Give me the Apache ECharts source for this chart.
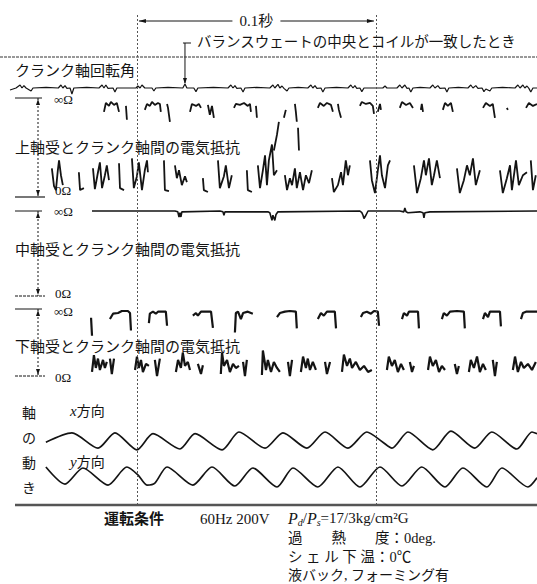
<!DOCTYPE html>
<html>
<head>
<meta charset="utf-8">
<script src="https://cdn.jsdelivr.net/npm/echarts@6/dist/echarts.min.js"></script>
<style>
html, body { margin: 0; padding: 0; background: #fff; }
#main { width: 537px; height: 584px; }
</style>
</head>
<body>
<div id="main"></div>
<script>
// time axis in ms, 0 = first marker line, 100 = second one (0.1 s)
var T_MIN = -57.3, T_MAX = 167.4;
var markTimes = [0, 100];
var balanceTime = 20.1;

// crank angle trace, [ms, deflection]
var crankAngle = [
    [-53.1, -0.5], [-50.6, 0], [-48.9, 0.75], [-48.1, 0], [-47.3, 0.6], [-46.4, 0], [-44.3, -0.75], [-43.5, 0],
    [-38.0, 0.15], [-32.9, 0], [-31.8, 0.75], [-31.0, 0], [-30.1, 0.6], [-29.3, -0.1], [-28.0, 0], [-27.2, -1.5], [-26.4, 0],
    [-21.0, 0.15], [-15.9, 0], [-14.6, 0.75], [-13.8, 0], [-13.0, 0.75], [-12.1, -0.1], [-10.0, 0], [-9.2, -1.0], [-8.4, 0],
    [-0.4, 0], [0.4, 0.5], [1.3, 0], [2.1, 0.75], [3.3, 0], [6.3, 0], [7.1, -0.75], [7.9, 0],
    [13.0, 0.15], [19.2, 0], [20.1, 1.0], [20.9, 0], [23.8, 0], [24.7, -0.9], [25.5, 0],
    [32.0, 0.15], [38.1, 0], [39.3, 0.75], [40.2, 0], [41.0, 0.6], [41.8, -0.1], [43.5, 0], [44.4, -1.0], [45.2, 0],
    [50.0, 0.15], [55.6, 0], [56.9, 0.75], [57.7, 0], [59.0, 0.9], [59.8, 0], [60.7, 0.5], [61.5, -0.1], [62.8, -0.75], [63.6, 0],
    [67.5, 0.15], [71.5, 0], [72.8, 0.75], [73.6, 0], [74.5, 0.6], [75.3, -0.1], [77.0, 0], [77.8, -1.0], [78.7, 0],
    [83.5, 0.15], [88.3, 0], [89.5, 0.75], [90.4, 0], [91.2, 0.6], [92.0, -0.1], [93.3, 0], [94.1, -0.9], [95.0, 0],
    [102.9, 0], [103.8, 0.5], [104.6, 0],
    [108.8, 0], [110.0, 0.75], [110.9, 0], [112.1, 0.75], [113.0, -0.1], [113.8, 0], [114.6, -1.0], [115.5, 0],
    [118.5, 0.15], [122.6, 0], [123.8, 0.75], [124.7, 0], [125.9, 0.6], [126.8, -0.1], [128.9, 0], [129.7, -1.0], [130.5, 0],
    [134.5, 0.15], [138.5, 0], [139.7, 0.75], [140.6, 0], [141.8, 0.6], [142.7, -0.1], [144.4, 0], [145.2, -0.9], [146.0, -0.25], [147.7, -0.75], [148.5, 0],
    [153.0, 0.15], [158.2, 0], [159.4, 0.75], [160.3, 0], [161.5, 0.75], [162.3, 0], [163.2, 0.5], [164.0, -0.1], [164.8, -1.0], [165.7, 0], [167.4, 0]
];

// upper bearing resistance (1 = open circuit, 0 = contact), visible pieces only
var upperHigh = [
    [[-13.8, 0.86], [-13.0, 0.95], [-11.7, 0.92], [-10.9, 0.96], [-9.6, 0.93], [-8.4, 0.95], [-7.5, 0.86]],
    [[-4.6, 0.92], [-4.2, 0.78]],
    [[3.3, 0.88], [4.2, 0.94], [5.4, 0.92], [6.3, 0.96], [7.5, 0.93], [8.8, 0.95], [9.6, 0.94], [10.0, 0.86]],
    [[12.6, 0.94], [13.0, 0.90], [13.8, 0.76]],
    [[22.2, 0.86], [23.0, 0.94], [24.7, 0.92], [25.9, 0.94], [26.8, 0.90]],
    [[29.7, 0.93], [30.5, 0.83], [31.4, 0.92], [32.2, 0.80]],
    [[40.6, 0.90], [41.4, 0.94], [43.1, 0.93], [44.8, 0.95], [46.4, 0.92], [47.3, 0.94], [47.7, 0.86]],
    [[49.8, 0.92], [50.2, 0.80]],
    [[57.3, 0.47], [58.6, 0.63], [59.4, 0.76]],
    [[61.5, 0.80], [62.3, 0.88]],
    [[66.1, 0.94], [66.5, 0.86], [66.9, 0.76]],
    [[67.4, 0.70], [67.8, 0.47]],
    [[75.7, 0.90], [76.6, 0.95], [78.2, 0.92], [79.5, 0.95], [81.2, 0.93], [82.0, 0.86]],
    [[84.1, 0.94], [84.5, 0.88], [85.4, 0.80]],
    [[93.3, 0.92], [94.1, 0.96], [95.8, 0.94], [97.5, 0.95], [98.7, 0.92], [99.2, 0.84]],
    [[100.8, 0.86], [101.7, 0.94], [102.1, 0.88]],
    [[110.0, 0.90], [110.9, 0.96], [112.6, 0.93], [114.2, 0.95], [115.5, 0.90]],
    [[118.8, 0.88], [119.2, 0.94], [119.7, 0.86]],
    [[128.0, 0.88], [128.9, 0.95], [130.1, 0.92], [131.4, 0.95], [132.2, 0.86]],
    [[144.8, 0.90], [146.0, 0.95], [147.7, 0.92], [148.9, 0.94], [149.8, 0.80]],
    [[154.8, 0.90], [155.2, 0.88]],
    [[162.8, 0.90], [164.0, 0.95], [165.7, 0.92], [167.4, 0.94]]
];
var upperLow = [
    [[-35.6, 0.29], [-34.7, 0.11], [-33.9, 0.07], [-33.1, 0.27], [-32.6, 0.37], [-31.8, 0.22], [-31.0, 0.12]],
    [[-24.3, 0.25], [-23.8, 0.07], [-22.2, 0.09]],
    [[-18.4, 0.29], [-17.6, 0.08], [-16.3, 0.25], [-15.5, 0.35], [-14.6, 0.09], [-13.4, 0.22], [-12.6, 0.32], [-11.7, 0.17]],
    [[-7.5, 0.34], [-7.1, 0.09], [-5.4, 0.07]],
    [[-2.1, 0.39], [-1.3, 0.09], [0, 0.21], [0.8, 0.35], [2.1, 0.07], [3.3, 0.27], [4.2, 0.37], [4.6, 0.25]],
    [[11.3, 0.37], [11.7, 0.07], [13.4, 0.06]],
    [[15.9, 0.32], [16.7, 0.19], [17.6, 0.27], [18.8, 0.12], [20.1, 0.21], [20.9, 0.15]],
    [[27.6, 0.19], [28.0, 0.07], [29.7, 0.05]],
    [[33.9, 0.37], [34.7, 0.09], [36.4, 0.21], [37.2, 0.32], [38.5, 0.09], [39.7, 0.22]],
    [[46.0, 0.27], [46.4, 0.07], [48.1, 0.05]],
    [[50.6, 0.32], [51.5, 0.09], [52.7, 0.27], [53.6, 0.42], [54.4, 0.12], [55.2, 0.37], [56.5, 0.53], [57.3, 0.22], [58.6, 0.27]],
    [[61.9, 0.22], [62.8, 0.07], [64.0, 0.19], [64.9, 0.12], [66.1, 0.29], [66.9, 0.09], [68.2, 0.25], [69.5, 0.07], [70.7, 0.22], [72.0, 0.14], [73.2, 0.27]],
    [[81.6, 0.19], [82.4, 0.05], [84.1, 0.12], [85.4, 0.25], [86.2, 0.12], [87.4, 0.37], [88.3, 0.22], [89.1, 0.32]],
    [[97.5, 0.37], [98.3, 0.17], [99.6, 0.04], [100.8, 0.27], [101.7, 0.42], [102.5, 0.22], [103.8, 0.09], [105.0, 0.32], [105.9, 0.37]],
    [[115.9, 0.32], [117.2, 0.04], [118.8, 0.19], [120.1, 0.37], [120.9, 0.22], [122.2, 0.39], [123.4, 0.12], [124.3, 0.22], [125.5, 0.37], [126.8, 0.19]],
    [[133.9, 0.29], [135.1, 0.04], [136.8, 0.17], [138.1, 0.32], [139.3, 0.22], [140.6, 0.39], [141.8, 0.12], [143.5, 0.27]],
    [[151.9, 0.27], [153.1, 0.04], [154.8, 0.19], [156.1, 0.32], [156.9, 0.07], [158.6, 0.37], [159.8, 0.12], [161.5, 0.22], [163.2, 0.25]],
    [[164.8, 0.37], [165.7, 0.07], [166.9, 0.22]]
];

// middle bearing: stays open almost all the time
var middleTrace = [
    [-18.8, 1.0], [15.9, 1.0], [17.1, 0.99], [17.6, 0.93], [18.0, 0.98], [18.4, 0.93], [18.8, 0.99],
    [34.7, 1.0], [36.0, 0.99], [36.4, 0.95], [36.8, 0.99],
    [54.8, 0.99], [55.6, 0.98], [56.5, 0.89], [56.9, 0.95], [57.7, 0.89], [58.2, 0.96], [59.0, 0.99],
    [93.3, 1.0], [94.1, 0.98], [94.6, 0.95], [95.0, 0.91], [95.8, 0.95], [96.7, 1.0],
    [110.0, 1.0], [111.7, 0.99], [112.1, 1.035], [112.6, 0.99], [113.4, 0.98],
    [118.4, 0.99], [119.7, 0.98], [120.1, 0.92], [120.5, 0.98], [122.6, 0.99], [167.4, 1.0]
];

// lower bearing
var lowerHigh = [
    [[-19.2, 0.87], [-18.8, 0.60]],
    [[-11.3, 0.85], [-10.0, 0.93], [-7.9, 0.94], [-6.3, 0.97], [-3.8, 0.97], [-2.9, 0.94], [-2.5, 0.68]],
    [[5.0, 0.79], [5.4, 0.93], [6.7, 0.96], [7.9, 0.93], [8.8, 0.96], [12.1, 0.96], [12.6, 0.75]],
    [[23.4, 0.90], [24.7, 0.94], [25.5, 0.90], [26.8, 0.96], [31.0, 0.96], [31.8, 0.72]],
    [[41.0, 0.65], [41.4, 0.94], [42.3, 0.96], [43.5, 0.85], [44.4, 0.94], [46.4, 0.96], [48.5, 0.93]],
    [[58.6, 0.88], [59.8, 0.94], [61.9, 0.96], [64.0, 0.97], [66.5, 0.96], [66.9, 0.71]],
    [[75.7, 0.85], [77.0, 0.94], [78.2, 0.90], [79.5, 0.96], [82.8, 0.96], [83.3, 0.71]],
    [[93.7, 0.88], [94.6, 0.94], [96.2, 0.96], [97.9, 0.93], [99.2, 0.97], [100.8, 0.96], [101.3, 0.75]],
    [[110.9, 0.85], [111.7, 0.94], [113.0, 0.90], [113.8, 0.96], [117.6, 0.96], [118.0, 0.71]],
    [[127.6, 0.85], [128.4, 0.94], [129.7, 0.90], [131.0, 0.96], [133.9, 0.97], [136.8, 0.96], [137.2, 0.71]],
    [[144.8, 0.85], [145.6, 0.94], [146.9, 0.88], [147.7, 0.96], [151.9, 0.96], [152.3, 0.74]],
    [[160.7, 0.85], [161.5, 0.94], [162.8, 0.96], [167.4, 0.96]]
];
var lowerLow = [
    [[-18.8, 0.06], [-18.0, 0.31], [-17.2, 0.12], [-16.3, 0.26], [-15.5, 0.09], [-14.2, 0.24], [-13.4, 0.12], [-12.6, 0.21]],
    [[-11.3, 0.26], [-10.5, 0.03], [-9.6, 0.26]],
    [[-0.8, 0.09], [0, 0.29], [0.8, 0.12], [1.7, 0.24], [2.5, 0.06], [3.8, 0.18], [5.0, 0.15]],
    [[7.5, 0.24], [8.4, 0.0], [9.6, 0.26]],
    [[16.3, 0.06], [17.2, 0.24], [18.4, 0.12], [19.2, 0.35], [20.1, 0.15], [21.3, 0.21], [22.2, 0.09]],
    [[25.5, 0.18], [26.8, 0.03], [27.6, 0.16]],
    [[35.1, 0.03], [35.6, 0.35], [36.4, 0.15], [37.7, 0.24], [38.9, 0.06], [40.2, 0.18], [41.4, 0.12], [42.7, 0.15]],
    [[44.4, 0.21], [45.2, 0.0], [46.0, 0.24]],
    [[52.3, 0.015], [52.7, 0.38], [54.0, 0.09], [54.8, 0.24], [56.1, 0.06], [57.3, 0.21], [58.6, 0.12], [59.8, 0.06]],
    [[63.2, 0.21], [64.0, 0.0], [64.9, 0.24]],
    [[68.6, 0.06], [69.5, 0.29], [70.7, 0.12], [71.5, 0.26], [72.4, 0.09], [73.6, 0.21], [74.9, 0.09]],
    [[78.7, 0.21], [79.5, 0.03], [80.8, 0.21]],
    [[85.8, 0.06], [86.6, 0.32], [87.9, 0.15], [89.1, 0.26], [90.0, 0.12], [91.6, 0.21], [93.3, 0.09], [95.0, 0.15], [96.7, 0.06], [98.3, 0.09]],
    [[104.6, 0.09], [105.4, 0.29], [106.7, 0.15], [107.9, 0.24], [109.2, 0.06], [110.5, 0.18], [111.7, 0.09]],
    [[114.2, 0.21], [115.1, 0.06], [115.9, 0.15]],
    [[121.8, 0.09], [122.6, 0.29], [123.8, 0.15], [125.1, 0.24], [126.4, 0.06], [127.6, 0.15], [128.9, 0.09]],
    [[133.0, 0.18], [133.9, 0.03], [134.7, 0.15]],
    [[138.9, 0.06], [139.7, 0.24], [141.0, 0.12], [142.3, 0.29], [143.5, 0.06], [144.8, 0.18], [146.0, 0.09]],
    [[148.9, 0.24], [149.8, 0.0], [150.6, 0.21]],
    [[157.3, 0.09], [158.2, 0.29], [159.4, 0.06], [160.7, 0.21], [161.9, 0.12], [163.6, 0.18], [165.3, 0.09], [166.9, 0.21]]
];

// shaft motion, x and y direction
var shaftX = [
    [-38.1, -0.2], [-27.2, 0.9], [-16.3, -0.9], [-9.2, 0.9], [0, -1.1], [6.7, 0.8], [18.0, -1.0], [24.3, 0.8],
    [35.6, -1.1], [42.7, 1.0], [53.6, -0.9], [61.1, 0.9], [71.1, -0.9], [78.7, 1.0], [88.3, -0.9], [96.2, 1.0],
    [102.9, -0.2], [106.7, -0.9], [113.4, 1.0], [123.8, -1.1], [131.4, 1.1], [141.4, -0.9], [148.5, 1.0],
    [159.0, -1.0], [165.3, 1.0], [167.4, 0.8]
];
var shaftY = [
    [-38.1, 1.0], [-30.1, -0.75], [-22.6, 0.9], [-12.1, -0.85], [-4.2, 1.0], [0.4, 0.2], [4.2, -0.85], [7.5, -0.65],
    [12.6, 1.0], [23.4, -0.85], [31.4, 1.0], [41.0, -0.95], [48.5, 0.9], [58.6, -1.05], [65.3, 0.9], [75.7, -1.05],
    [84.1, 1.0], [93.3, -1.05], [101.7, 1.0], [110.9, -0.95], [119.2, 1.0], [128.9, -1.05], [136.4, 0.9],
    [146.4, -1.05], [152.7, 0.9], [163.6, -1.05], [167.4, -0.1]
];

var FONT = '"Liberation Serif", "Noto Sans CJK JP", serif';
var INK = '#141414';

// line breaks between visible pieces of a trace
function joinSegs(segs) {
    var out = [];
    for (var i = 0; i < segs.length; i++) {
        if (i > 0) out.push([segs[i][0][0], '-']);
        out = out.concat(segs[i]);
    }
    return out;
}

// grids: 0 overlay, 1 crank, 2 upper, 3 middle, 4 lower, 5 x dir, 6 y dir
var gridBoxes = [
    {top: 14, height: 491},
    {top: 80, height: 16},
    {top: 98, height: 99},
    {top: 211, height: 85},
    {top: 309, height: 67},
    {top: 432, height: 17},
    {top: 467, height: 19.5}
];
var yRanges = [[0, 1], [-2, 2], [0, 1], [0, 1], [0, 1], [-1, 1], [-1, 1]];

function traceSeries(grid, data, width, smooth) {
    return {
        type: 'line', xAxisIndex: grid, yAxisIndex: grid, data: data,
        showSymbol: false, symbol: 'none', clip: false, smooth: smooth || false,
        connectNulls: false, silent: true,
        lineStyle: {color: INK, width: width}
    };
}

var chart = echarts.init(document.getElementById('main'), null, {renderer: 'svg'});

var option = {
    animation: false,
    backgroundColor: '#fff',
    grid: gridBoxes.map(function (g) { return {left: 0, right: 0, top: g.top, height: g.height}; }),
    xAxis: gridBoxes.map(function (g, i) {
        return {gridIndex: i, type: 'value', min: T_MIN, max: T_MAX, show: false};
    }),
    yAxis: gridBoxes.map(function (g, i) {
        return {gridIndex: i, type: 'value', min: yRanges[i][0], max: yRanges[i][1], show: false};
    }),
    series: [
        {
            type: 'line', xAxisIndex: 0, yAxisIndex: 0, data: [[T_MIN, 0]], symbol: 'none',
            lineStyle: {opacity: 0}, silent: true,
            markLine: {
                symbol: ['none', 'none'], silent: true, label: {show: false},
                lineStyle: {color: '#555', width: 1, type: [2, 2]},
                data: markTimes.map(function (t) { return {xAxis: t}; })
            }
        },
        traceSeries(1, crankAngle, 1.2),
        traceSeries(2, joinSegs(upperHigh), 1.8),
        traceSeries(2, joinSegs(upperLow), 1.8),
        traceSeries(3, middleTrace, 1.6),
        traceSeries(4, joinSegs(lowerHigh), 2.2),
        traceSeries(4, joinSegs(lowerLow), 2.2),
        traceSeries(5, shaftX, 1.7, 0.25),
        traceSeries(6, shaftY, 1.7, 0.25)
    ]
};
chart.setOption(option);

function px(grid, t, v) {
    return chart.convertToPixel({gridIndex: grid}, [t, v]);
}

function text(str, x, y, size, extra) {
    var st = {text: str, x: x, y: y, fill: INK, fontSize: size || 14, fontFamily: FONT, verticalAlign: 'middle'};
    if (extra) for (var k in extra) st[k] = extra[k];
    return {type: 'text', silent: true, style: st};
}
function seg(x1, y1, x2, y2, w, dash, color) {
    return {type: 'line', silent: true, shape: {x1: x1, y1: y1, x2: x2, y2: y2},
        style: {stroke: color || INK, lineWidth: w || 1, lineDash: dash || null}};
}
function head(x, y, dir) {
    // small filled arrow head, tip at (x, y)
    var p;
    if (dir === 'left') p = [[x, y], [x + 7, y - 2], [x + 7, y + 2]];
    else if (dir === 'right') p = [[x, y], [x - 7, y - 2], [x - 7, y + 2]];
    else if (dir === 'down') p = [[x, y], [x - 2, y - 6], [x + 2, y - 6]];
    else p = [[x, y], [x - 2, y + 6], [x + 2, y + 6]];
    return {type: 'polygon', silent: true, shape: {points: p}, style: {fill: INK}};
}

var g = [];
// 0.1 s span arrow
var x0 = px(0, markTimes[0], 0)[0], x1 = px(0, markTimes[1], 0)[0];
g.push(seg(x0 + 2, 21, (x0 + x1) / 2 - 24, 21, 1));
g.push(seg((x0 + x1) / 2 + 24, 21, x1 - 2, 21, 1));
g.push(head(x0 + 2, 21, 'left'), head(x1 - 2, 21, 'right'));
g.push(text('0.1秒', (x0 + x1) / 2, 21, 15, {align: 'center'}));

// balance weight marker
var xb = px(0, balanceTime, 0)[0];
g.push(seg(xb - 2, 43, xb + 6, 43, 1));
g.push(seg(xb, 43, xb, 83, 1));
g.push(head(xb, 84, 'down'));
g.push(text('バランスウェートの中央とコイルが一致したとき', xb + 12, 42, 14.5));

// frame rules
g.push(seg(0, 57, 537, 57, 1, [3, 1], '#333'));
g.push(seg(15, 505, 537, 505, 2.5, null, '#555'));

g.push(text('クランク軸回転角', 15, 71, 15));

// resistance brackets: infinity at top of grid, zero at bottom
var brackets = [
    {grid: 2, name: '上軸受とクランク軸間の電気抵抗', nameY: 148, zeroShift: -7, infShift: 1},
    {grid: 3, name: '中軸受とクランク軸間の電気抵抗', nameY: 250, zeroShift: -3, infShift: 0},
    {grid: 4, name: '下軸受とクランク軸間の電気抵抗', nameY: 347, zeroShift: 1, infShift: 2}
];
brackets.forEach(function (b) {
    var yInf = px(b.grid, 0, 1)[1], yZero = px(b.grid, 0, 0)[1];
    g.push(seg(15, yInf, 42, yInf, 1));
    g.push(seg(38, yInf, 38, yZero, 1, [2, 2]));
    g.push(head(38, yInf + 1, 'up'), head(38, yZero - 1, 'down'));
    g.push(seg(15, yZero, 45, yZero, b.grid === 2 ? 2 : 1, b.grid === 2 ? null : [3, 1], b.grid === 2 ? '#777' : INK));
    g.push(text('∞Ω', 54, yInf + b.infShift, 13));
    g.push(text('0Ω', 55, yZero + b.zeroShift, 13));
    g.push(text(b.name, 15, b.nameY, 15));
});

// shaft motion labels
['軸', 'の', '動', 'き'].forEach(function (c, i) {
    g.push(text(c, 22, 413 + i * 25, 14));
});
g.push(text('{i|x}方向', 70, 411, 14, {rich: {i: {fontStyle: 'italic', fontFamily: FONT, fontSize: 15}}}));
g.push(text('{i|y}方向', 70, 462, 14, {rich: {i: {fontStyle: 'italic', fontFamily: FONT, fontSize: 15}}}));

// operating conditions
g.push(text('運転条件', 104, 519, 15, {fontWeight: 'bold'}));
g.push(text('60Hz 200V', 200, 519, 15));
g.push(text('{i|P}{s|d}/{i|P}{s|s}=17/3kg/cm²G', 288, 518, 15, {
    rich: {
        i: {fontStyle: 'italic', fontFamily: FONT, fontSize: 16},
        s: {fontStyle: 'italic', fontFamily: FONT, fontSize: 10, padding: [8, 0, 0, 0]}
    }
}));
g.push(text('過　　熱　　度：0deg.', 288, 538, 14.5));
g.push(text('シ ェ ル 下 温：0℃', 288, 557, 14.5));
g.push(text('液バック, フォーミング有', 288, 575, 14));

chart.setOption({graphic: {elements: g}});
</script>
</body>
</html>
